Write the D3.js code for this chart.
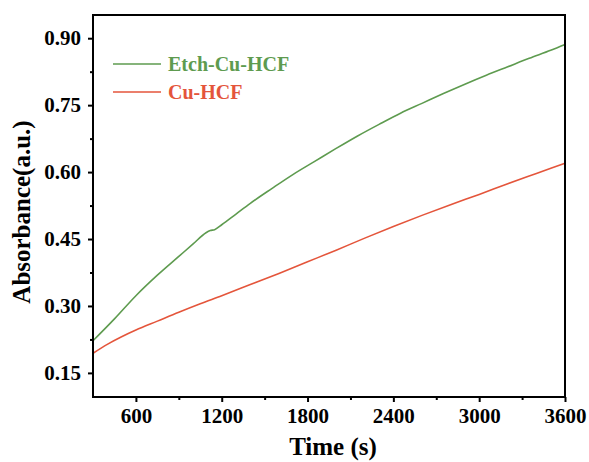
<!DOCTYPE html>
<html>
<head>
<meta charset="utf-8">
<script src="https://cdn.jsdelivr.net/npm/d3@7"></script>
<style>
  html, body { margin: 0; padding: 0; background: #fff; }
  svg { display: block; }
  text { font-family: "Liberation Serif", "Times New Roman", serif; font-weight: bold; }
</style>
</head>
<body>
<svg id="chart" width="589" height="462"></svg>
<script>
// ---- data ----
const etchTime = [300, 450, 600, 750, 900, 1000, 1090, 1120, 1150, 1200, 1300, 1400, 1550, 1700, 1850, 2000, 2150, 2300, 2450, 2600, 2750, 2900, 3050, 3200, 3350, 3500, 3600];
const etchAbs  = [0.222, 0.271, 0.323, 0.369, 0.411, 0.439, 0.464, 0.469, 0.471, 0.482, 0.506, 0.530, 0.563, 0.595, 0.624, 0.653, 0.681, 0.707, 0.732, 0.754, 0.776, 0.797, 0.817, 0.836, 0.855, 0.873, 0.886];
const cuTime = [300, 400, 500, 600, 750, 900, 1050, 1200, 1400, 1600, 1800, 2000, 2200, 2400, 2600, 2800, 3000, 3200, 3400, 3600];
const cuAbs  = [0.194, 0.214, 0.231, 0.246, 0.266, 0.286, 0.305, 0.323, 0.348, 0.373, 0.399, 0.425, 0.452, 0.478, 0.503, 0.527, 0.550, 0.574, 0.597, 0.620];
const seriesNames = ["Etch-Cu-HCF", "Cu-HCF"];
const xTicks = [600, 1200, 1800, 2400, 3000, 3600];
const xMinorTicks = [900, 1500, 2100, 2700, 3300];
const yTicks = [0.15, 0.30, 0.45, 0.60, 0.75, 0.90];
const yMinorTicks = [0.225, 0.375, 0.525, 0.675, 0.825];
const xTitle = "Time (s)";
const yTitle = "Absorbance(a.u.)";

// ---- layout ----
const W = 589, H = 462;
const m = { left: 93, right: 24, top: 15, bottom: 65 };
const iw = W - m.left - m.right, ih = H - m.top - m.bottom;
const colors = ["#5e9b4f", "#e4553b"];

const svg = d3.select("#chart");
const g = svg.append("g").attr("transform", `translate(${m.left},${m.top})`);

const x = d3.scaleLinear().domain([300, 3600]).range([0, iw]);
const y = d3.scaleLinear().domain([0.096, 0.952]).range([ih, 0]);

// lines
const line = d3.line().curve(d3.curveMonotoneX).x(d => x(d[0])).y(d => y(d[1]));
const series = [
  d3.zip(etchTime, etchAbs),
  d3.zip(cuTime, cuAbs)
];
series.forEach((s, i) => {
  g.append("path").datum(s)
    .attr("fill", "none")
    .attr("stroke", colors[i])
    .attr("stroke-width", 1.6)
    .attr("d", line);
});

// frame
g.append("rect").attr("x", 0).attr("y", 0).attr("width", iw).attr("height", ih)
  .attr("fill", "none").attr("stroke", "#000").attr("stroke-width", 2);

// axes
const xAxis = g.append("g").attr("transform", `translate(0,${ih})`)
  .call(d3.axisBottom(x).tickValues(xTicks).tickFormat(d3.format("d")).tickSize(5).tickPadding(6));
const xMinor = g.append("g").attr("transform", `translate(0,${ih})`)
  .call(d3.axisBottom(x).tickValues(xMinorTicks).tickFormat("").tickSize(3));
const yAxis = g.append("g")
  .call(d3.axisLeft(y).tickValues(yTicks).tickFormat(d3.format(".2f")).tickSize(5).tickPadding(7));
const yMinor = g.append("g")
  .call(d3.axisLeft(y).tickValues(yMinorTicks).tickFormat("").tickSize(3));

[xAxis, xMinor, yAxis, yMinor].forEach(a => {
  a.select(".domain").remove();
  a.selectAll("line").attr("stroke", "#000").attr("stroke-width", 2);
  a.selectAll("text").attr("fill", "#000").style("font-size", "21px")
    .style("font-family", '"Liberation Serif", "Times New Roman", serif').style("font-weight", "bold");
});

// axis titles
svg.append("text").attr("x", m.left + iw / 2 + 4).attr("y", 455)
  .attr("text-anchor", "middle").style("font-size", "25px").attr("fill", "#000").text(xTitle);
svg.append("text").attr("transform", `translate(30,${m.top + ih / 2 + 6}) rotate(-90)`)
  .attr("text-anchor", "middle").style("font-size", "25px").attr("fill", "#000").text(yTitle);

// legend
const leg = g.append("g");
seriesNames.forEach((n, i) => {
  const ly = 49 + i * 28;
  leg.append("line").attr("x1", 20).attr("x2", 68).attr("y1", ly).attr("y2", ly)
    .attr("stroke", colors[i]).attr("stroke-width", 1.6);
  leg.append("text").attr("x", 75).attr("y", ly + 7).style("font-size", "20px")
    .attr("fill", colors[i]).text(n);
});
</script>
</body>
</html>
